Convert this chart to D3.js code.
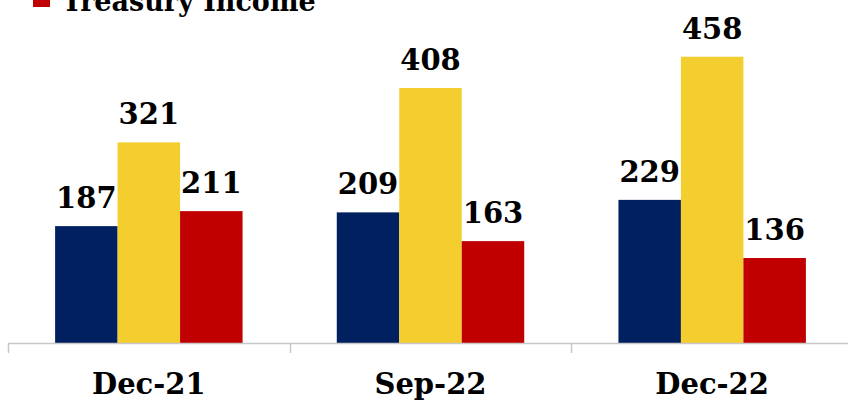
<!DOCTYPE html>
<html><head><meta charset="utf-8">
<script src="https://cdn.jsdelivr.net/npm/d3@7"></script>
<style>body{margin:0;background:#fff}svg{display:block}</style>
</head><body>
<svg id="c" width="848" height="401"></svg>
<script>
const categories = ["Dec-21", "Sep-22", "Dec-22"];
const seriesNames = ["Series A", "Series B", "Treasury Income"];
const seriesA = [187, 209, 229];
const seriesB = [321, 408, 458];
const treasuryIncome = [211, 163, 136];
const colors = ["#002060", "#F4CD2F", "#C00000"];

const svg = d3.select("#c");
const font = "'DejaVu Serif', serif";
const base = 343;
const x0 = d3.scaleBand().domain(categories).range([8, 853]).paddingInner(0).paddingOuter(0);
const x1 = d3.scaleBand().domain(seriesNames).range([0, x0.bandwidth()]).paddingInner(0).paddingOuter(0.754);
const y = d3.scaleLinear().domain([0, 548.8]).range([base, 0]);

const data = [seriesA, seriesB, treasuryIncome];
const g = svg.append("g");
categories.forEach((c, ci) => {
  seriesNames.forEach((s, si) => {
    const v = data[si][ci];
    const bx = x0(c) + x1(s);
    g.append("rect").attr("x", bx).attr("y", y(v)).attr("width", x1.bandwidth())
      .attr("height", base - y(v)).attr("fill", colors[si]);
    g.append("text").attr("x", bx + x1.bandwidth() / 2).attr("y", y(v) - 18)
      .attr("text-anchor", "middle").attr("font-family", font).attr("font-weight", "bold")
      .attr("font-size", 29).attr("fill", "#000").text(v);
  });
});

// axis
svg.append("line").attr("x1", 8).attr("x2", 848).attr("y1", base + 0.5).attr("y2", base + 0.5)
  .attr("stroke", "#c8c8c8").attr("stroke-width", 1.5);
const tickXs = categories.map(c => x0(c)).concat([x0.range()[1]]);
tickXs.forEach(t => {
  svg.append("line").attr("x1", Math.round(t) + 0.5).attr("x2", Math.round(t) + 0.5)
    .attr("y1", base).attr("y2", base + 10).attr("stroke", "#c8c8c8").attr("stroke-width", 1.5);
});
categories.forEach(c => {
  svg.append("text").attr("x", x0(c) + x0.bandwidth() / 2).attr("y", 394)
    .attr("text-anchor", "middle").attr("font-family", font).attr("font-weight", "bold")
    .attr("font-size", 29).attr("fill", "#000").text(c);
});

// legend (only last entry visible; the rest lies above the frame as in the reference)
const lg = svg.append("g");
lg.append("rect").attr("x", 33).attr("y", -10).attr("width", 17).attr("height", 17).attr("fill", colors[2]);
lg.append("text").attr("x", 62).attr("y", 11).attr("font-family", font).attr("font-weight", "bold")
  .attr("font-size", 27).attr("fill", "#000").text(seriesNames[2]);
</script>
</body></html>
